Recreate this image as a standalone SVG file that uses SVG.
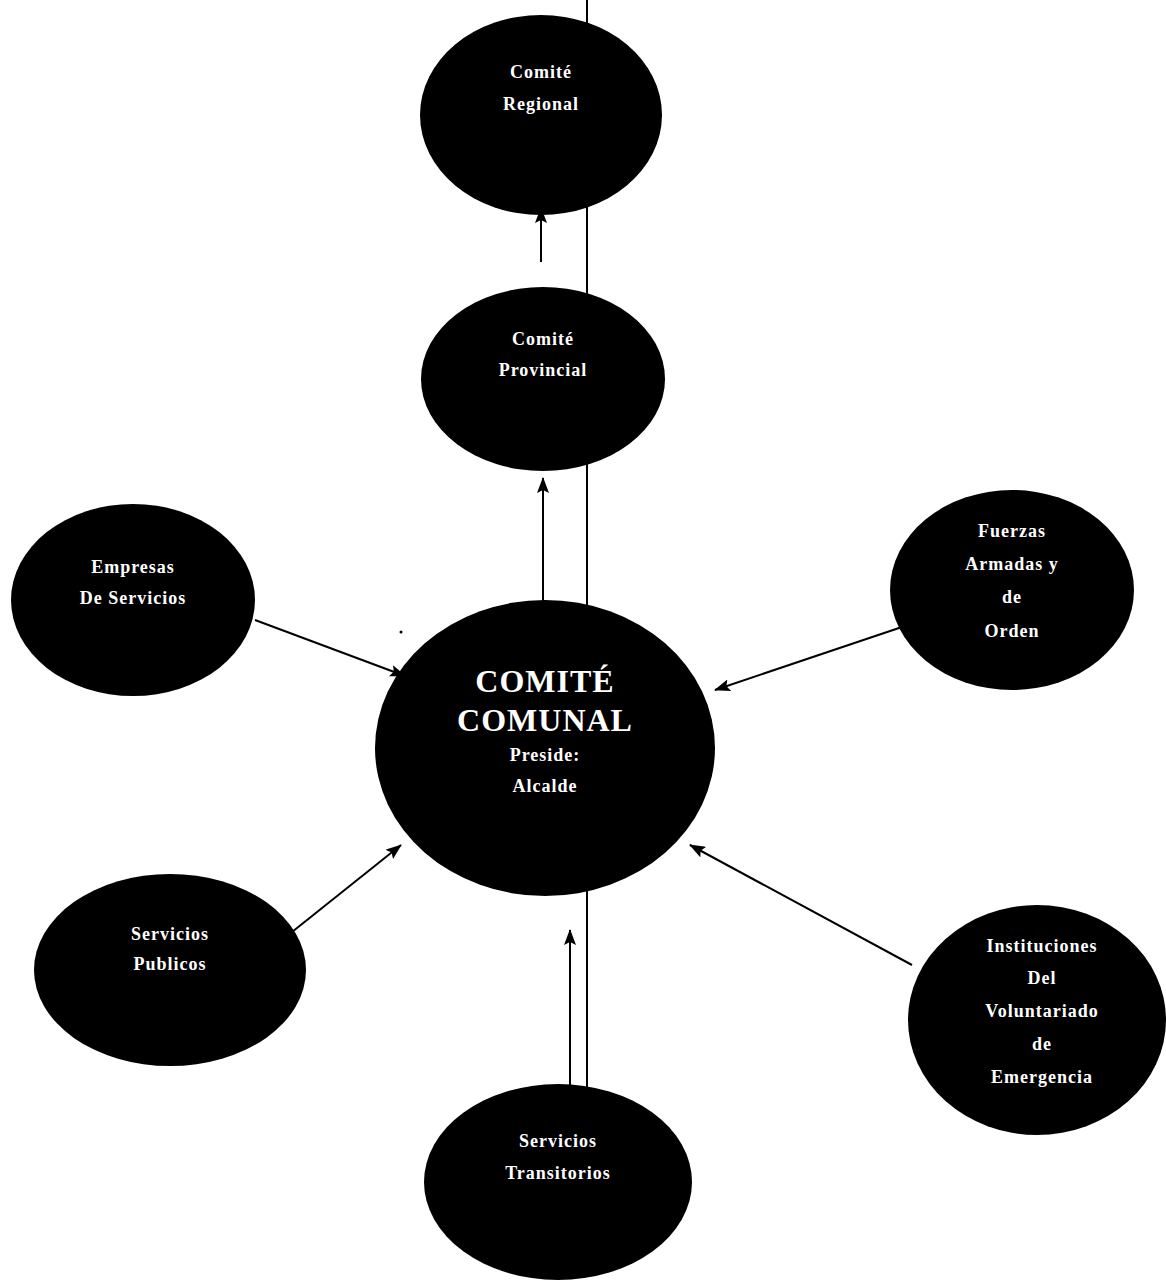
<svg xmlns="http://www.w3.org/2000/svg" width="1166" height="1281" viewBox="0 0 1166 1281">
<style>
.node{fill:#000}
.t{fill:#fff;font-family:"Liberation Serif",serif;font-weight:bold;font-size:18px;text-anchor:middle;letter-spacing:1px}
.big{font-size:32px;letter-spacing:1px}
.c{stroke:#000;stroke-width:2;fill:none}
</style>
<defs>
<marker id="ah" markerWidth="16" markerHeight="12" refX="15" refY="6" orient="auto" markerUnits="userSpaceOnUse" viewBox="0 0 16 12">
<path d="M0,0 L16,6 L0,12 L3,6 Z" fill="#000"/>
</marker>
</defs>
<rect width="1166" height="1281" fill="#fff"/>
<g id="connectors">
<line class="c" x1="587" y1="0" x2="587" y2="610"/>
<line class="c" x1="587" y1="890" x2="587" y2="1090"/>
<line class="c" x1="541" y1="262" x2="541" y2="208" marker-end="url(#ah)"/>
<line class="c" x1="543" y1="602" x2="543" y2="478" marker-end="url(#ah)"/>
<line class="c" x1="255" y1="620" x2="405" y2="676" marker-end="url(#ah)"/>
<line class="c" x1="902" y1="627" x2="715" y2="690" marker-end="url(#ah)"/>
<line class="c" x1="292" y1="932" x2="401" y2="845" marker-end="url(#ah)"/>
<line class="c" x1="912" y1="965" x2="690" y2="845" marker-end="url(#ah)"/>
<line class="c" x1="570" y1="1088" x2="570" y2="930" marker-end="url(#ah)"/>
<circle cx="401" cy="632" r="1.5" fill="#000"/>
</g>
<g id="regional">
<ellipse class="node" cx="541" cy="115" rx="121" ry="100"/>
<text class="t" x="541" y="78">Comité</text>
<text class="t" x="541" y="110">Regional</text>
</g>
<g id="provincial">
<ellipse class="node" cx="543" cy="379" rx="122" ry="92"/>
<text class="t" x="543" y="345">Comité</text>
<text class="t" x="543" y="376">Provincial</text>
</g>
<g id="comunal">
<ellipse class="node" cx="545" cy="748" rx="170" ry="148"/>
<text class="t big" x="545" y="692">COMITÉ</text>
<text class="t big" x="545" y="731">COMUNAL</text>
<text class="t" x="545" y="761">Preside:</text>
<text class="t" x="545" y="792">Alcalde</text>
</g>
<g id="empresas">
<ellipse class="node" cx="133" cy="600" rx="122" ry="96"/>
<text class="t" x="133" y="573">Empresas</text>
<text class="t" x="133" y="604">De Servicios</text>
</g>
<g id="fuerzas">
<ellipse class="node" cx="1012" cy="590" rx="122" ry="100"/>
<text class="t" x="1012" y="537">Fuerzas</text>
<text class="t" x="1012" y="570">Armadas y</text>
<text class="t" x="1012" y="603">de</text>
<text class="t" x="1012" y="637">Orden</text>
</g>
<g id="publicos">
<ellipse class="node" cx="170" cy="970" rx="136" ry="96"/>
<text class="t" x="170" y="940">Servicios</text>
<text class="t" x="170" y="970">Publicos</text>
</g>
<g id="instituciones">
<ellipse class="node" cx="1037" cy="1020" rx="129" ry="115"/>
<text class="t" x="1042" y="952">Instituciones</text>
<text class="t" x="1042" y="984">Del</text>
<text class="t" x="1042" y="1017">Voluntariado</text>
<text class="t" x="1042" y="1050">de</text>
<text class="t" x="1042" y="1083">Emergencia</text>
</g>
<g id="transitorios">
<ellipse class="node" cx="558" cy="1182" rx="134" ry="98"/>
<text class="t" x="558" y="1147">Servicios</text>
<text class="t" x="558" y="1179">Transitorios</text>
</g>
</svg>
